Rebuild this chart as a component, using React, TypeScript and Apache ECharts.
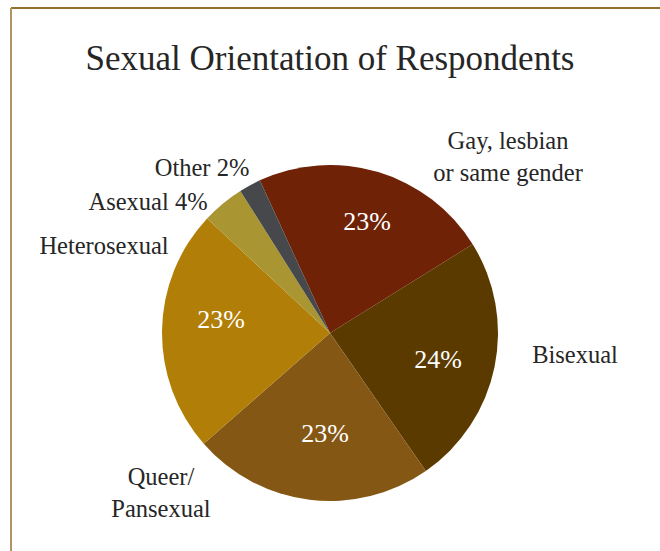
import React, { useEffect, useRef } from "react";
import * as echarts from "echarts";

const categories = [
  "Gay, lesbian\nor same gender",
  "Bisexual",
  "Queer/\nPansexual",
  "Heterosexual",
  "Asexual",
  "Other",
];
const values = [23.0, 24.2, 23.2, 23.4, 4.1, 2.1];
const sliceColors = ["#6F2206", "#5B3A00", "#845814", "#B17E07", "#A99633", "#46484B"];
const showNamePct = [false, false, false, false, true, true];
const titleText = "Sexual Orientation of Respondents";

const FONT = "Liberation Serif, Times New Roman, serif";

// label anchor positions (layout only)
const insidePos = [
  [367, 221],
  [438, 359],
  [325, 433],
  [221, 319],
  null,
  null,
];
const outsidePos = [
  [508, 156],
  [575, 354],
  [161, 492],
  [104, 245],
  [148, 201],
  [202, 167],
];

export default function App() {
  const ref = useRef<HTMLDivElement>(null);
  useEffect(() => {
    if (!ref.current) return;
    const chart = echarts.init(ref.current, null, { renderer: "svg" });
    const data = categories.map((c, i) => ({
      name: c,
      value: values[i],
      itemStyle: { color: sliceColors[i] },
    }));
    const common = {
      type: "pie",
      center: [330, 333],
      radius: [0, 168],
      startAngle: 114.7,
      clockwise: true,
      avoidLabelOverlap: false,
      data,
    };
    chart.setOption({
      animation: false,
      backgroundColor: "#ffffff",
      title: {
        text: titleText,
        left: "center",
        top: 36,
        textStyle: {
          fontFamily: FONT,
          fontSize: 35,
          fontWeight: "normal",
          color: "#262626",
        },
      },
      graphic: [
        {
          type: "line",
          shape: { x1: 11, y1: 8, x2: 660, y2: 8 },
          style: { stroke: "#94702f", lineWidth: 2 },
        },
        {
          type: "line",
          shape: { x1: 11, y1: 8, x2: 11, y2: 551 },
          style: { stroke: "#b09463", lineWidth: 2 },
        },
      ],
      series: [
        {
          ...common,
          itemStyle: { borderColor: "#ffffff", borderWidth: 1.5 },
          label: {
            show: true,
            position: "inside",
            color: "#ffffff",
            fontFamily: FONT,
            fontSize: 26,
            formatter: (p: any) =>
              insidePos[p.dataIndex] ? `${Math.round(p.value)}%` : "",
          },
          labelLine: { show: false },
          labelLayout: (p: any) => {
            const pos = insidePos[p.dataIndex];
            if (!pos) return {};
            return { x: pos[0], y: pos[1], align: "center", verticalAlign: "middle" };
          },
          emphasis: { disabled: true },
        },
        {
          ...common,
          silent: true,
          itemStyle: { color: "rgba(0,0,0,0)", borderWidth: 0 },
          label: {
            show: true,
            position: "outside",
            color: "#262626",
            fontFamily: FONT,
            fontSize: 24.5,
            lineHeight: 32,
            align: "center",
            formatter: (p: any) =>
              showNamePct[p.dataIndex]
                ? `${p.name} ${Math.round(p.value)}%`
                : p.name,
          },
          labelLine: { show: false },
          labelLayout: (p: any) => {
            const pos = outsidePos[p.dataIndex];
            return { x: pos[0], y: pos[1], align: "center", verticalAlign: "middle" };
          },
          emphasis: { disabled: true },
        },
      ],
    });
    return () => chart.dispose();
  }, []);
  return (
    <div
      ref={ref}
      style={{ position: "fixed", left: 0, top: 0, width: 660, height: 551 }}
    />
  );
}
